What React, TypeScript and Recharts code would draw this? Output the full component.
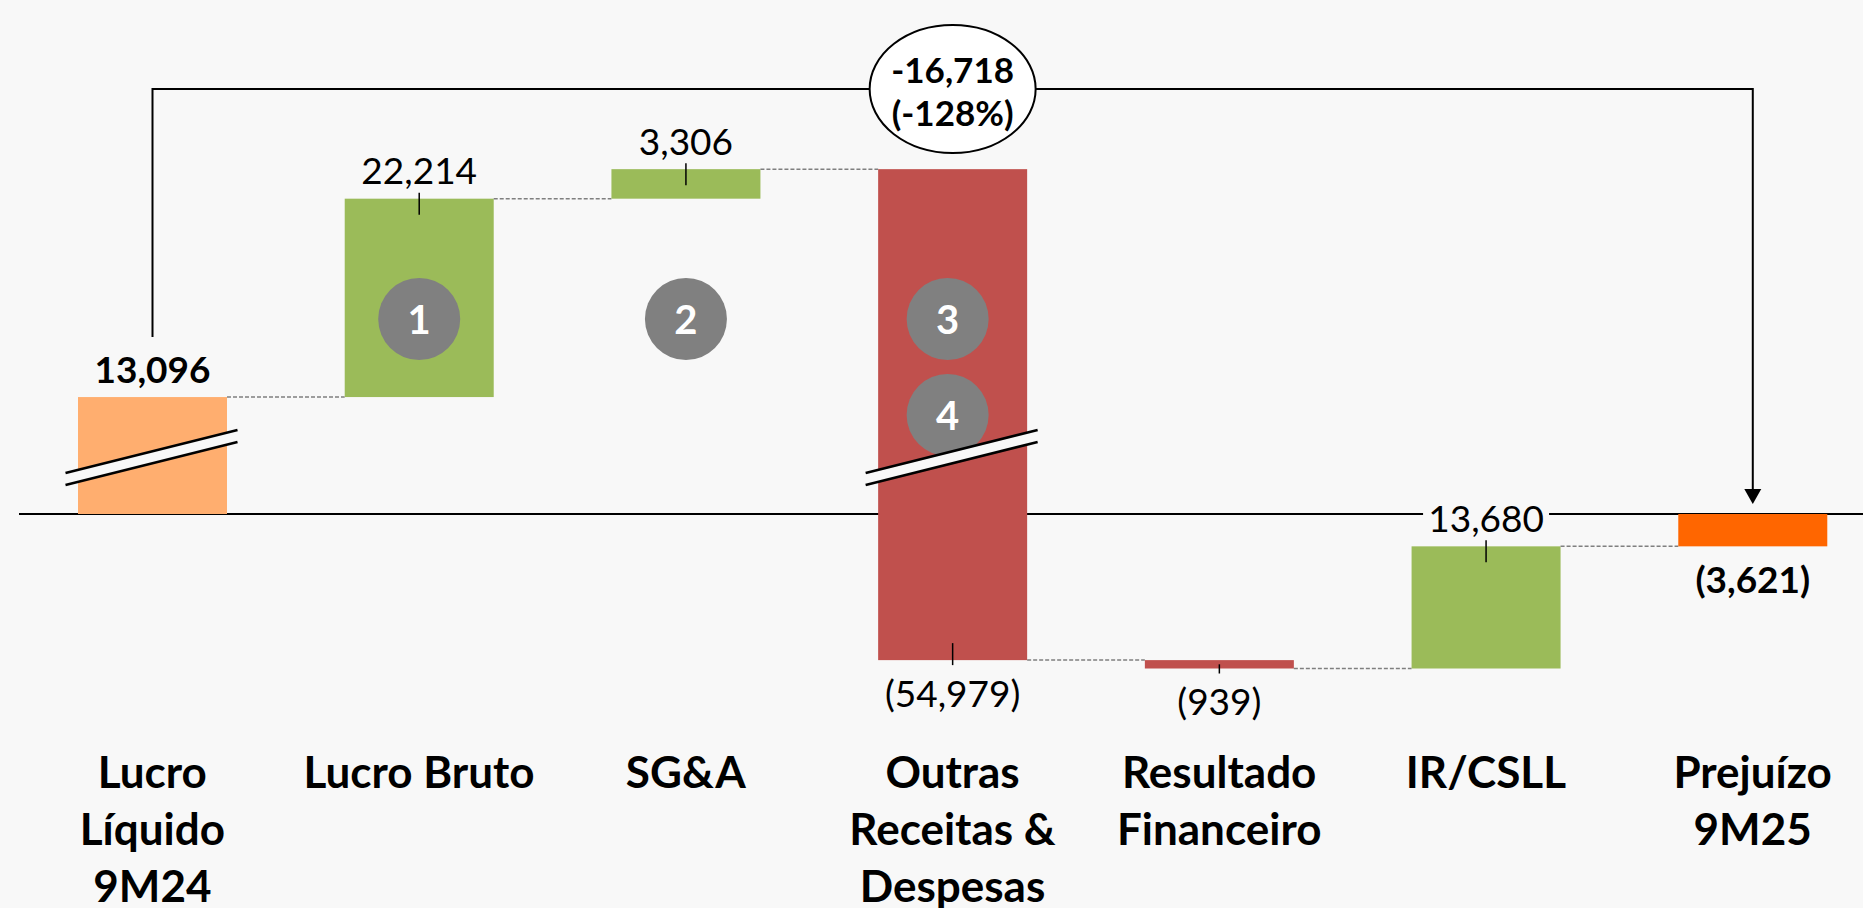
import { ComposedChart, Bar, XAxis, YAxis } from 'recharts';

// categorias (uma linha por item do array)
const categories = [
  ['Lucro', 'Líquido', '9M24'],
  ['Lucro Bruto'],
  ['SG&A'],
  ['Outras', 'Receitas &', 'Despesas'],
  ['Resultado', 'Financeiro'],
  ['IR/CSLL'],
  ['Prejuízo', '9M25'],
];
const names = categories.map((c) => c.join(' '));

// variações (R$ mil)
const changes = [13096, 22214, 3306, -54979, -939, 13680, -3621];
const isTotal = [true, false, false, false, false, false, true];

// marcadores numerados por categoria
const markers = [[], ['1'], ['2'], ['3', '4'], [], [], []];

// variação total entre os extremos
const variation = ['-16,718', '(-128%)'];

const CHART_W = 1886;
const CHART_H = 908;
const MARGIN_L = 19;
const AXIS_H = 173;
const BAND = (CHART_W - MARGIN_L) / categories.length;
const BG = '#f8f8f8';
const FONT = 'Lato, "Open Sans", sans-serif';
const COLORS = ['#ffae6f', '#9bbb59', '#9bbb59', '#c0504d', '#c0504d', '#9bbb59', '#ff6600'];
const BROKEN = [0, 3];

let level = 0;
const data = names.map((name, i) => {
  const start = isTotal[i] ? 0 : level;
  const end = isTotal[i] ? changes[i] : level + changes[i];
  level = end;
  return { name, start, end, range: [Math.min(start, end), Math.max(start, end)] };
});

const fmt = (v: number) =>
  v < 0 ? `(${Math.abs(v).toLocaleString('en-US')})` : v.toLocaleString('en-US');

function CategoryTick(props: any) {
  const { x, y, payload } = props;
  const lines = categories[names.indexOf(payload.value)] || [];
  return (
    <g>
      {lines.map((l, k) => (
        <text key={k} x={x} y={y + 53 + k * 57} textAnchor="middle" fontFamily={FONT}
          fontWeight="bold" fontSize={44} fill="#000">
          {l}
        </text>
      ))}
    </g>
  );
}

function WaterfallShape(props: any) {
  const { x, y, width, height, index, payload } = props;
  const top = Math.min(y, y + height);
  const h = Math.abs(height);
  const bottom = top + h;
  const cx = x + width / 2;
  const up = payload.end >= payload.start;
  const endY = up ? top : bottom;
  const total = isTotal[index];
  const label = fmt(changes[index]);
  const labelY = up ? top - 29 : bottom + 32;
  const boxW = label.length * 19 + 12;

  return (
    <g>
      {index === 0 && (
        <line x1={MARGIN_L} x2={CHART_W} y1={bottom} y2={bottom} stroke="#000" strokeWidth={2} />
      )}
      <rect x={x} y={top} width={width} height={h} fill={COLORS[index]} />
      {index < categories.length - 1 && (
        <line x1={x + width} x2={x + BAND} y1={endY} y2={endY}
          stroke="#7f7f7f" strokeWidth={1.5} strokeDasharray="4 2" />
      )}
      {markers[index].map((m, k) => {
        const mx = markers[index].length > 1 ? cx - 5 : cx;
        const my = 319 + k * 96;
        return (
          <g key={k}>
            <circle cx={mx} cy={my} r={41} fill="#808080" />
            <text x={mx} y={my} textAnchor="middle" dominantBaseline="central" fontFamily={FONT}
              fontWeight="bold" fontSize={40} fill="#fff">
              {m}
            </text>
          </g>
        );
      })}
      {BROKEN.includes(index) && (
        <g>
          <polygon points={`${cx - 87},473 ${cx + 85},430 ${cx + 85},442 ${cx - 87},485`} fill={BG} />
          <line x1={cx - 87} y1={473} x2={cx + 85} y2={430} stroke="#000" strokeWidth={2.5} />
          <line x1={cx - 87} y1={485} x2={cx + 85} y2={442} stroke="#000" strokeWidth={2.5} />
        </g>
      )}
      <rect x={cx - boxW / 2} y={labelY - 18} width={boxW} height={36} fill={BG} />
      <text x={cx} y={labelY} textAnchor="middle" dominantBaseline="central" fontFamily={FONT}
        fontWeight={total ? 'bold' : 'normal'} fontSize={37} fill="#000">
        {label}
      </text>
      {!total && (up ? (
        <line x1={cx} x2={cx} y1={top - 6} y2={top + 16} stroke="#000" strokeWidth={1.5} />
      ) : (
        <line x1={cx} x2={cx} y1={bottom - Math.min(17, h / 2)} y2={bottom + 5} stroke="#000" strokeWidth={1.5} />
      ))}
      {index === categories.length - 1 && (
        <g>
          <polyline points={`${cx - 6 * BAND},337 ${cx - 6 * BAND},89 ${cx},89 ${cx},490`}
            fill="none" stroke="#000" strokeWidth={2} />
          <polygon points={`${cx - 8.5},489 ${cx + 8.5},489 ${cx},504`} fill="#000" />
          <ellipse cx={cx - 3 * BAND} cy={89} rx={83} ry={64} fill="#fff" stroke="#000" strokeWidth={2} />
          {variation.map((t, k) => (
            <text key={k} x={cx - 3 * BAND} y={69 + k * 43} textAnchor="middle" dominantBaseline="central"
              fontFamily={FONT} fontWeight="bold" fontSize={35} fill="#000">
              {t}
            </text>
          ))}
        </g>
      )}
    </g>
  );
}

export default function App() {
  return (
    <div style={{ position: 'fixed', left: 0, top: 0, width: 1863, height: 908, overflow: 'hidden', background: BG }}>
      <ComposedChart width={CHART_W} height={CHART_H} data={data}
        margin={{ top: 0, right: 0, bottom: 0, left: MARGIN_L }}>
        <XAxis dataKey="name" height={AXIS_H} axisLine={false} tickLine={false} tickSize={0}
          tickMargin={0} interval={0} tick={<CategoryTick />} />
        <YAxis hide type="number" domain={[-24748, 57559]} allowDataOverflow />
        <Bar dataKey="range" barSize={149} shape={<WaterfallShape />} isAnimationActive={false} />
      </ComposedChart>
    </div>
  );
}
